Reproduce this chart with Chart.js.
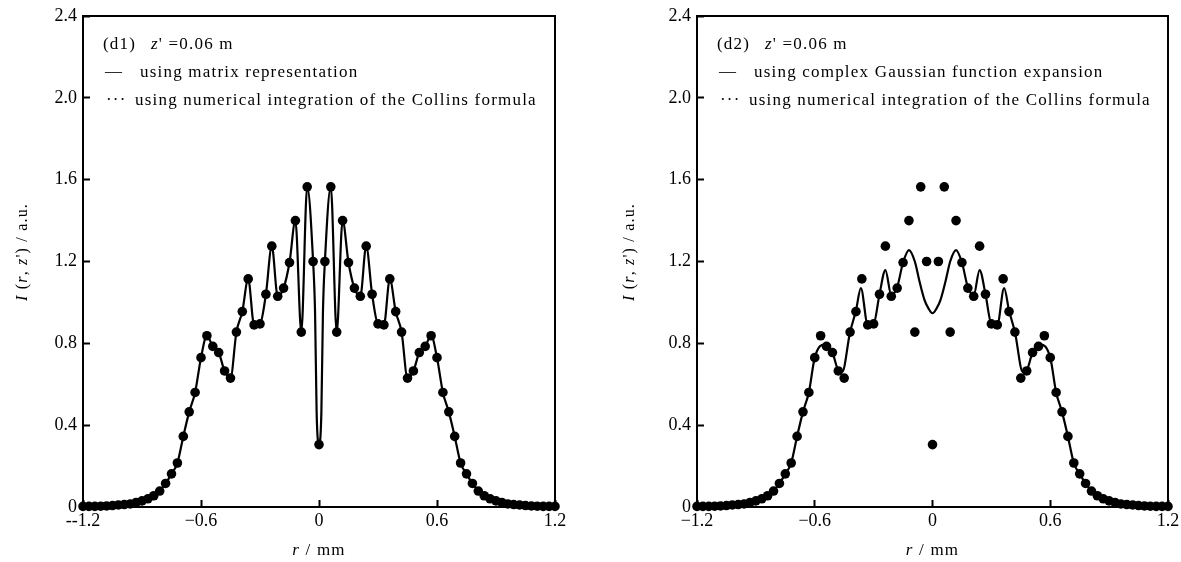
<!DOCTYPE html>
<html>
<head>
<meta charset="utf-8">
<script src="https://cdn.jsdelivr.net/npm/chart.js@4.4.1/dist/chart.umd.min.js"></script>
<style>
  html, body { margin: 0; padding: 0; background: #fff; }
  body { width: 1181px; height: 562px; position: relative; overflow: hidden; }
  .panel { position: absolute; top: 0; height: 562px; }
</style>
</head>
<body>
<div class="panel" style="left:0;width:590px"><canvas id="chart_d1" width="590" height="562"></canvas></div>
<div class="panel" style="left:590px;width:591px"><canvas id="chart_d2" width="591" height="562"></canvas></div>
<script>
// radial positions of the Collins-formula points (mm)
var collinsR = [
  -1.20, -1.17, -1.14, -1.11, -1.08, -1.05, -1.02, -0.99, -0.96, -0.93,
  -0.90, -0.87, -0.84, -0.81, -0.78, -0.75, -0.72, -0.69, -0.66, -0.63,
  -0.60, -0.57, -0.54, -0.51, -0.48, -0.45, -0.42, -0.39, -0.36, -0.33,
  -0.30, -0.27, -0.24, -0.21, -0.18, -0.15, -0.12, -0.09, -0.06, -0.03,
  0,
  0.03, 0.06, 0.09, 0.12, 0.15, 0.18, 0.21, 0.24, 0.27, 0.30,
  0.33, 0.36, 0.39, 0.42, 0.45, 0.48, 0.51, 0.54, 0.57, 0.60,
  0.63, 0.66, 0.69, 0.72, 0.75, 0.78, 0.81, 0.84, 0.87, 0.90,
  0.93, 0.96, 0.99, 1.02, 1.05, 1.08, 1.11, 1.14, 1.17, 1.20
];
var collinsI = [
  0.003, 0.003, 0.003, 0.004, 0.005, 0.007, 0.010, 0.012, 0.015, 0.022,
  0.030, 0.040, 0.055, 0.078, 0.115, 0.162, 0.215, 0.345, 0.465, 0.560,
  0.730, 0.837, 0.785, 0.755, 0.665, 0.630, 0.855, 0.955, 1.115, 0.890,
  0.895, 1.040, 1.275, 1.030, 1.070, 1.195, 1.400, 0.855, 1.565, 1.200,
  0.305,
  1.200, 1.565, 0.855, 1.400, 1.195, 1.070, 1.030, 1.275, 1.040, 0.895,
  0.890, 1.115, 0.955, 0.855, 0.630, 0.665, 0.755, 0.785, 0.837, 0.730,
  0.560, 0.465, 0.345, 0.215, 0.162, 0.115, 0.078, 0.055, 0.040, 0.030,
  0.022, 0.015, 0.012, 0.010, 0.007, 0.005, 0.004, 0.003, 0.003, 0.003
];

// matrix representation curve (d1)
var matrixR = [
  -1.20, -1.17, -1.14, -1.11, -1.08, -1.05, -1.02, -0.99, -0.96, -0.93,
  -0.90, -0.87, -0.84, -0.81, -0.78, -0.75, -0.72, -0.69, -0.66, -0.63,
  -0.60, -0.57, -0.54, -0.51, -0.48, -0.45, -0.42, -0.39, -0.36, -0.33,
  -0.30, -0.27, -0.24, -0.21, -0.18, -0.15, -0.12, -0.09, -0.06, -0.03,
  -0.02, -0.012, 0, 0.012, 0.02,
  0.03, 0.06, 0.09, 0.12, 0.15, 0.18, 0.21, 0.24, 0.27, 0.30,
  0.33, 0.36, 0.39, 0.42, 0.45, 0.48, 0.51, 0.54, 0.57, 0.60,
  0.63, 0.66, 0.69, 0.72, 0.75, 0.78, 0.81, 0.84, 0.87, 0.90,
  0.93, 0.96, 0.99, 1.02, 1.05, 1.08, 1.11, 1.14, 1.17, 1.20
];
var matrixI = [
  0.003, 0.003, 0.003, 0.004, 0.005, 0.007, 0.010, 0.012, 0.015, 0.022,
  0.030, 0.040, 0.055, 0.078, 0.115, 0.162, 0.215, 0.345, 0.465, 0.560,
  0.730, 0.837, 0.785, 0.755, 0.665, 0.630, 0.855, 0.955, 1.115, 0.890,
  0.895, 1.040, 1.275, 1.030, 1.070, 1.195, 1.400, 0.855, 1.565, 1.200,
  0.950, 0.460, 0.305, 0.460, 0.950,
  1.200, 1.565, 0.855, 1.400, 1.195, 1.070, 1.030, 1.275, 1.040, 0.895,
  0.890, 1.115, 0.955, 0.855, 0.630, 0.665, 0.755, 0.785, 0.837, 0.730,
  0.560, 0.465, 0.345, 0.215, 0.162, 0.115, 0.078, 0.055, 0.040, 0.030,
  0.022, 0.015, 0.012, 0.010, 0.007, 0.005, 0.004, 0.003, 0.003, 0.003
];

// complex Gaussian function expansion curve (d2)
var gaussR = [
  -1.20, -1.17, -1.14, -1.11, -1.08, -1.05, -1.02, -0.99, -0.96, -0.93,
  -0.90, -0.87, -0.84, -0.81, -0.78, -0.75, -0.72, -0.69, -0.66, -0.63,
  -0.60, -0.55, -0.51, -0.48, -0.46, -0.42, -0.39, -0.365, -0.33, -0.30,
  -0.27, -0.24, -0.21, -0.18, -0.15, -0.12, -0.09, -0.068, -0.04, -0.02,
  0,
  0.02, 0.04, 0.068, 0.09, 0.12, 0.15, 0.18, 0.21, 0.24, 0.27,
  0.30, 0.33, 0.365, 0.39, 0.42, 0.46, 0.48, 0.51, 0.55, 0.60,
  0.63, 0.66, 0.69, 0.72, 0.75, 0.78, 0.81, 0.84, 0.87, 0.90,
  0.93, 0.96, 0.99, 1.02, 1.05, 1.08, 1.11, 1.14, 1.17, 1.20
];
var gaussI = [
  0.003, 0.003, 0.003, 0.004, 0.005, 0.007, 0.010, 0.012, 0.015, 0.022,
  0.030, 0.040, 0.055, 0.078, 0.115, 0.162, 0.215, 0.345, 0.465, 0.560,
  0.730, 0.795, 0.755, 0.668, 0.660, 0.855, 0.960, 1.070, 0.890, 0.895,
  1.040, 1.158, 1.035, 1.075, 1.195, 1.256, 1.200, 1.110, 1.010, 0.970,
  0.947,
  0.970, 1.010, 1.110, 1.200, 1.256, 1.195, 1.075, 1.035, 1.158, 1.040,
  0.895, 0.890, 1.070, 0.960, 0.855, 0.660, 0.668, 0.755, 0.795, 0.730,
  0.560, 0.465, 0.345, 0.215, 0.162, 0.115, 0.078, 0.055, 0.040, 0.030,
  0.022, 0.015, 0.012, 0.010, 0.007, 0.005, 0.004, 0.003, 0.003, 0.003
];

var xTickLabelsD1 = ['--1.2', '\u22120.6', '0', '0.6', '1.2'];
var xTickLabelsD2 = ['\u22121.2', '\u22120.6', '0', '0.6', '1.2'];
var yTickLabels = ['0', '0.4', '0.8', '1.2', '1.6', '2.0', '2.4'];

var SERIF = '"Liberation Serif", "Times New Roman", serif';
Chart.defaults.font.family = SERIF;
Chart.defaults.color = '#000';

function toPoints(xs, ys) {
  return xs.map(function(x, i) { return {x: x, y: ys[i]}; });
}

// draws a run of text pieces, some italic, starting at x
function drawRich(ctx, parts, x, y, size) {
  parts.forEach(function(p) {
    ctx.font = (p.it ? 'italic ' : '') + size + 'px ' + SERIF;
    ctx.fillText(p.t, x, y);
    x += ctx.measureText(p.t).width;
  });
}
function richWidth(ctx, parts, size) {
  var w = 0;
  parts.forEach(function(p) {
    ctx.font = (p.it ? 'italic ' : '') + size + 'px ' + SERIF;
    w += ctx.measureText(p.t).width;
  });
  return w;
}

// keep the plot box where the layout padding puts it
function noScalePadding(scale) {
  scale.paddingLeft = 0;
  scale.paddingRight = 0;
  scale.paddingTop = 0;
  scale.paddingBottom = 0;
}

var decorPlugin = {
  id: 'panelDecor',
  afterDraw: function(chart, args, o) {
    var ctx = chart.ctx;
    var a = chart.chartArea;
    ctx.save();
    ctx.strokeStyle = '#000';
    ctx.lineWidth = 2;
    ctx.strokeRect(a.left, a.top, a.right - a.left, a.bottom - a.top);

    ctx.fillStyle = '#000';
    ctx.textBaseline = 'middle';
    ctx.textAlign = 'left';
    ctx.letterSpacing = '1.2px';

    // panel header and legend
    ctx.font = '17px ' + SERIF;
    ctx.fillText(o.tag, a.left + 20, 45);
    drawRich(ctx, [{t: 'z', it: true}, {t: '\' =0.06 m'}], a.left + 68, 45, 17);
    ctx.font = '17px ' + SERIF;
    ctx.fillText('\u2014', a.left + 22, 72);
    ctx.fillText(o.solidLabel, a.left + 57, 73);
    ctx.fillText('\u00B7\u00B7\u00B7', a.left + 23, 101);
    ctx.fillText(o.dotLabel, a.left + 52, 101);

    // x title
    var xParts = [{t: 'r', it: true}, {t: ' / mm'}];
    var xw = richWidth(ctx, xParts, 17);
    drawRich(ctx, xParts, (a.left + a.right) / 2 - xw / 2, 551, 17);

    // y title
    var yParts = [{t: 'I', it: true}, {t: ' ('}, {t: 'r', it: true}, {t: ', '},
                  {t: 'z', it: true}, {t: '\') / a.u.'}];
    var yw = richWidth(ctx, yParts, 16);
    ctx.translate(o.yTitleX, 252);
    ctx.rotate(-Math.PI / 2);
    drawRich(ctx, yParts, -yw / 2, 0, 16);
    ctx.restore();
  }
};

function makePanel(id, curveR, curveI, xLabels, pad, decor) {
  return new Chart(document.getElementById(id), {
    type: 'scatter',
    data: {
      datasets: [
        {
          label: decor.solidLabel,
          data: toPoints(curveR, curveI),
          showLine: true,
          pointRadius: 0,
          borderColor: '#000',
          borderWidth: 2.2,
          cubicInterpolationMode: 'monotone'
        },
        {
          label: decor.dotLabel,
          data: toPoints(collinsR, collinsI),
          showLine: false,
          pointRadius: 4.8,
          pointBorderWidth: 0,
          backgroundColor: '#000',
          borderColor: '#000',
          clip: false
        }
      ]
    },
    options: {
      animation: false,
      responsive: false,
      layout: { padding: pad },
      plugins: {
        legend: { display: false },
        tooltip: { enabled: false },
        panelDecor: decor
      },
      scales: {
        x: {
          type: 'linear',
          min: -1.2,
          max: 1.2,
          border: { display: false },
          grid: { drawOnChartArea: false, drawTicks: true, tickLength: -7, tickWidth: 2, tickColor: '#000' },
          ticks: {
            stepSize: 0.6,
            padding: 10,
            maxRotation: 0,
            font: { size: 18 },
            callback: function(value, index) { return xLabels[index]; }
          },
          afterFit: function(scale) { scale.height = 55; noScalePadding(scale); }
        },
        y: {
          type: 'linear',
          min: 0,
          max: 2.4,
          border: { display: false },
          grid: { drawOnChartArea: false, drawTicks: true, tickLength: -7, tickWidth: 2, tickColor: '#000' },
          ticks: {
            stepSize: 0.4,
            padding: 13,
            font: { size: 18 },
            callback: function(value, index) { return yTickLabels[index]; }
          },
          afterFit: function(scale) { scale.width = 60; noScalePadding(scale); }
        }
      }
    },
    plugins: [decorPlugin]
  });
}

var chart_d1 = makePanel('chart_d1', matrixR, matrixI, xTickLabelsD1,
  { left: 23, right: 35, top: 16, bottom: 0 },
  { tag: '(d1)', solidLabel: 'using matrix representation',
    dotLabel: 'using numerical integration of the Collins formula', yTitleX: 23 });

var chart_d2 = makePanel('chart_d2', gaussR, gaussI, xTickLabelsD2,
  { left: 47, right: 13, top: 16, bottom: 0 },
  { tag: '(d2)', solidLabel: 'using complex Gaussian function expansion',
    dotLabel: 'using numerical integration of the Collins formula', yTitleX: 40 });
</script>
</body>
</html>
